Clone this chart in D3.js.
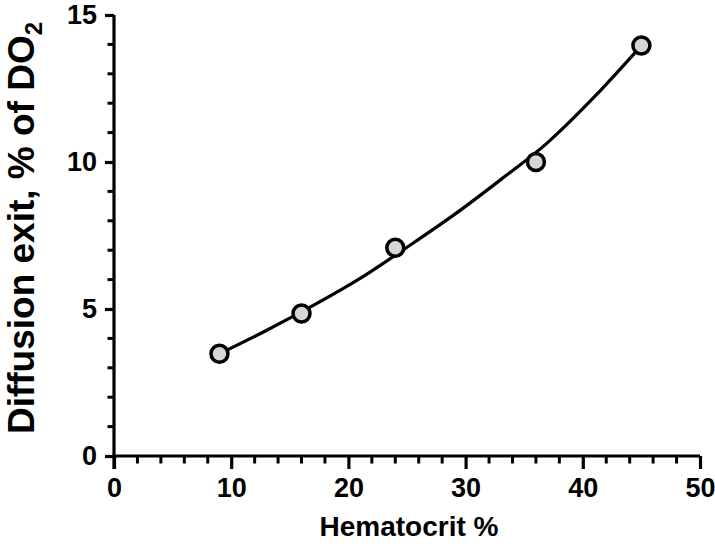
<!DOCTYPE html>
<html>
<head>
<meta charset="utf-8">
<script src="https://cdn.jsdelivr.net/npm/d3@7"></script>
<style>
  body { margin: 0; background: #fff; }
  text { font-family: "Liberation Sans", Arial, sans-serif; font-weight: bold; fill: #000; }
</style>
</head>
<body>
<div id="chart"></div>
<script>
// measured points
const hematocrit = [9, 16, 24, 36, 45];
const diffusionExit = [3.48, 4.85, 7.08, 10.0, 13.96];

// fitted curve
const fitX = [9, 13, 17, 21, 25, 29, 33, 37, 41, 45];
const fitY = [3.48, 4.27, 5.12, 6.04, 7.10, 8.20, 9.40, 10.66, 12.22, 13.96];

const xTicks = [0, 10, 20, 30, 40, 50];
const yTicks = [0, 5, 10, 15];

const width = 715, height = 547;
const margin = { top: 15, right: 15, bottom: 92, left: 114 };

const svg = d3.select("#chart")
  .append("svg")
  .attr("width", width)
  .attr("height", height);

const x = d3.scaleLinear().domain([0, 50]).range([margin.left, width - margin.right]);
const y = d3.scaleLinear().domain([0, 15]).range([height - margin.bottom + 1, margin.top]);

const y0 = y(0);

//--------- x axis ---------
const xMinor = d3.range(0, 51, 2).filter(v => v % 10 !== 0);
svg.append("g")
  .selectAll("line.minor")
  .data(xMinor)
  .enter().append("line")
  .attr("x1", d => x(d)).attr("x2", d => x(d))
  .attr("y1", y0).attr("y2", y0 + 7.5)
  .attr("stroke", "#000").attr("stroke-width", 3);

const xAxis = svg.append("g")
  .attr("transform", `translate(0,${y0})`)
  .call(d3.axisBottom(x).tickValues(xTicks).tickSize(13).tickPadding(9).tickSizeOuter(0));
xAxis.select(".domain").attr("stroke-width", 3.2).attr("d", `M${x(0)},0H${x(50)}`);
xAxis.selectAll(".tick line").attr("stroke-width", 3.2);
xAxis.selectAll(".tick text").style("font-size", "27px").style("font-family", null);

//--------- y axis ---------
const yMinor = d3.range(0, 16, 1).filter(v => v % 5 !== 0);
svg.append("g")
  .selectAll("line.minor")
  .data(yMinor)
  .enter().append("line")
  .attr("x1", x(0) - 6.5).attr("x2", x(0))
  .attr("y1", d => y(d)).attr("y2", d => y(d))
  .attr("stroke", "#000").attr("stroke-width", 3);

const yAxis = svg.append("g")
  .attr("transform", `translate(${x(0)},0)`)
  .call(d3.axisLeft(y).tickValues(yTicks).tickSize(9).tickPadding(8).tickSizeOuter(0));
yAxis.select(".domain").attr("stroke-width", 3.2).attr("d", `M0,${y(15)}V${y0 + 13}`);
yAxis.selectAll(".tick line").attr("stroke-width", 3.2);
yAxis.selectAll(".tick text").style("font-size", "27px").style("font-family", null);
svg.selectAll(".tick text").attr("fill", "#000");

//--------- titles ---------
svg.append("text")
  .attr("x", (x(0) + x(50)) / 2 + 2)
  .attr("y", 536)
  .attr("text-anchor", "middle")
  .style("font-size", "28px")
  .text("Hematocrit %");

const yt = svg.append("text")
  .attr("transform", "translate(34,228) rotate(-90)")
  .attr("text-anchor", "middle")
  .style("font-size", "37px");
yt.append("tspan").text("Diffusion exit, % of DO");
yt.append("tspan").attr("dy", 8).style("font-size", "24px").text("2");

//--------- curve + points ---------
const fit = fitX.map((d, i) => [d, fitY[i]]);
const line = d3.line()
  .x(d => x(d[0]))
  .y(d => y(d[1]))
  .curve(d3.curveMonotoneX);

svg.append("path")
  .datum(fit)
  .attr("d", line)
  .attr("fill", "none")
  .attr("stroke", "#000")
  .attr("stroke-width", 3.2);

svg.selectAll(".dot")
  .data(hematocrit)
  .enter().append("circle")
  .attr("class", "dot")
  .attr("cx", d => x(d))
  .attr("cy", (d, i) => y(diffusionExit[i]))
  .attr("r", 8.5)
  .attr("fill", "#d4d7da")
  .attr("stroke", "#000")
  .attr("stroke-width", 3.5);
</script>
</body>
</html>
